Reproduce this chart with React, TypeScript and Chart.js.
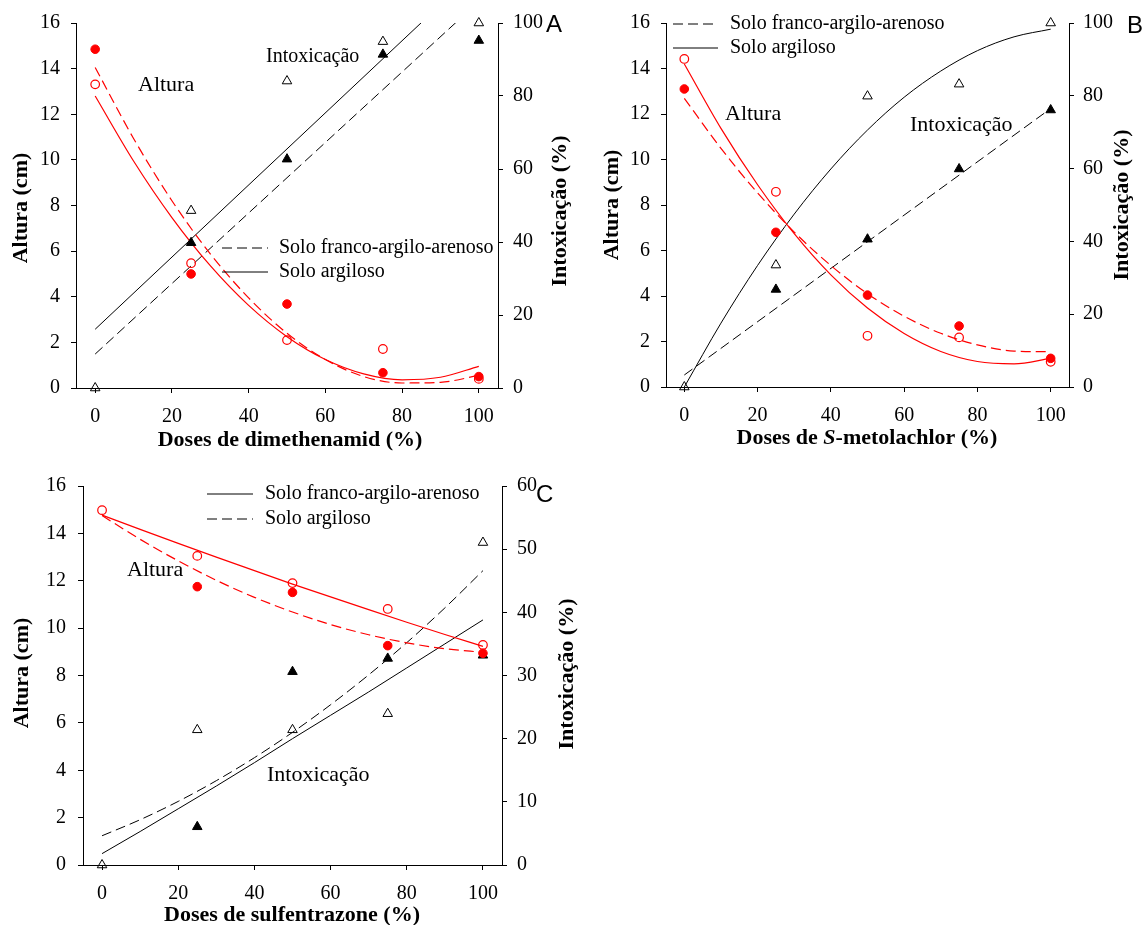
import React, { useEffect, useRef } from 'react';
import { Chart, registerables } from 'chart.js';

Chart.register(...registerables);

const SERIF = "'Liberation Serif', 'Times New Roman', serif";
const SANS = "'Liberation Sans', Arial, sans-serif";
const RED = '#ff0000';

// ---------- shared axes ----------
const doseTicks = [0, 20, 40, 60, 80, 100];
const alturaTicks = [0, 2, 4, 6, 8, 10, 12, 14, 16];
const intoxTicksAB = [0, 20, 40, 60, 80, 100];
const intoxTicksC = [0, 10, 20, 30, 40, 50, 60];
const doses = [0, 25, 50, 75, 100];
const curveDoses = [0, 10, 20, 30, 40, 50, 60, 70, 80, 90, 100];
const lineDoses = [0, 100];

// ---------- Panel A: dimethenamid ----------
const aAlturaFilled = [14.85, 5.0, 3.68, 0.67, 0.5];
const aAlturaOpen = [13.31, 5.47, 2.1, 1.71, 0.4];
const aIntoxFilled = [null, 39.8, 62.7, 91.4, 95.2];
const aIntoxOpen = [0, 48.6, 84.1, 94.9, 100];
const aFitAlturaDashed = [14.05, 10.94, 8.21, 5.88, 3.95, 2.4, 1.25, 0.5, 0.22, 0.25, 0.55];
const aFitAlturaSolid = [12.8, 9.95, 7.47, 5.36, 3.62, 2.25, 1.25, 0.62, 0.36, 0.47, 0.95];
const aFitIntoxDashed = [9.3, 105.9];
const aFitIntoxSolid = [16.1, 114.9];

// ---------- Panel B: S-metolachlor ----------
const bAlturaFilled = [13.1, 6.8, 4.04, 2.68, 1.26];
const bAlturaOpen = [14.42, 8.58, 2.25, 2.18, 1.11];
const bIntoxFilled = [null, 26.8, 40.6, 59.9, 76.1];
const bIntoxOpen = [0, 33.5, 79.9, 83.2, 100];
const bFitAlturaDashed = [12.69, 10.49, 8.53, 6.81, 5.34, 4.1, 3.11, 2.36, 1.85, 1.58, 1.55];
const bFitAlturaSolid = [14.2, 11.37, 8.89, 6.74, 4.93, 3.47, 2.35, 1.56, 1.12, 1.02, 1.26];
const bFitIntoxDashed = [3.3, 76.5];
const bFitIntoxSolid = [0, 17.55, 33.4, 47.5, 59.9, 70.6, 79.6, 86.8, 92.4, 96.2, 98.3];

// ---------- Panel C: sulfentrazone ----------
const cAlturaOpen = [14.98, 13.05, 11.9, 10.81, 9.29];
const cAlturaFilled = [null, 11.75, 11.51, 9.26, 8.94];
const cIntoxOpen = [0, 21.4, 21.4, 23.95, 51.05];
const cIntoxFilled = [null, 6.05, 30.6, 32.7, 33.2];
const cFitAlturaSolid = [14.77, 14.17, 13.58, 13.0, 12.43, 11.86, 11.32, 10.78, 10.25, 9.73, 9.23];
const cFitAlturaDashed = [14.75, 13.75, 12.84, 12.02, 11.3, 10.68, 10.15, 9.72, 9.38, 9.13, 8.98];
const cFitIntoxSolid = [1.8, 5.3, 8.9, 12.5, 16.2, 20.0, 23.7, 27.4, 31.2, 35.0, 38.8];
const cFitIntoxDashed = [4.63, 7.17, 10.07, 13.35, 16.99, 21.0, 25.37, 30.1, 35.2, 40.7, 46.6];

const LEG_FRANCO = 'Solo franco-argilo-arenoso';
const LEG_ARGILOSO = 'Solo argiloso';

const DASH = [10, 5];

type Part = { t: string; font: string };
type TextItem = {
  parts: Part[];
  x: number;
  y: number;
  align?: 'left' | 'center';
  baseline?: CanvasTextBaseline;
  rotate?: boolean;
};
type LegendItem = { dash: number[]; x1: number; x2: number; y: number; tx: number; text: string };

const titleFont = `bold 22px ${SERIF}`;
const txt = (t: string, font: string): Part[] => [{ t, font }];

const pts = (xs: number[], ys: (number | null)[]) =>
  xs.map((x, i) => ({ x, y: ys[i] })).filter((p) => p.y !== null);

const overlayPlugin = {
  id: 'overlay',
  afterDraw(chart: any, _args: any, opts: any) {
    const ctx: CanvasRenderingContext2D = chart.ctx;
    ctx.save();
    ctx.fillStyle = '#000';
    ctx.strokeStyle = '#000';
    (opts.legend || []).forEach((l: LegendItem) => {
      ctx.save();
      ctx.lineWidth = 1;
      ctx.setLineDash(l.dash);
      ctx.beginPath();
      ctx.moveTo(l.x1, l.y);
      ctx.lineTo(l.x2, l.y);
      ctx.stroke();
      ctx.restore();
      ctx.font = `20px ${SERIF}`;
      ctx.textAlign = 'left';
      ctx.textBaseline = 'middle';
      ctx.fillText(l.text, l.tx, l.y);
    });
    (opts.texts || []).forEach((it: TextItem) => {
      ctx.save();
      ctx.translate(it.x, it.y);
      if (it.rotate) ctx.rotate(-Math.PI / 2);
      ctx.textBaseline = it.baseline || 'middle';
      ctx.textAlign = 'left';
      let total = 0;
      const widths = it.parts.map((p) => {
        ctx.font = p.font;
        const w = ctx.measureText(p.t).width;
        total += w;
        return w;
      });
      let cx = it.align === 'left' ? 0 : -total / 2;
      it.parts.forEach((p, i) => {
        ctx.font = p.font;
        ctx.fillText(p.t, cx, 0);
        cx += widths[i];
      });
      ctx.restore();
    });
    ctx.restore();
  },
};

const tickFont = { family: SERIF, size: 20 };

function xScale(height: number) {
  return {
    type: 'linear',
    position: 'bottom',
    min: -5,
    max: 105,
    afterBuildTicks: (s: any) => {
      s.ticks = doseTicks.map((v) => ({ value: v }));
    },
    afterFit: (s: any) => {
      s.height = height;
    },
    grid: { drawOnChartArea: false, drawTicks: true, tickLength: 5, color: '#000', lineWidth: 1 },
    border: { display: true, color: '#000', width: 1 },
    ticks: { color: '#000', font: tickFont, padding: 12, maxRotation: 0, autoSkip: false },
  };
}

function yScale(position: 'left' | 'right', max: number, ticks: number[], width: number, padding: number) {
  return {
    type: 'linear',
    position,
    min: 0,
    max,
    afterBuildTicks: (s: any) => {
      s.ticks = ticks.map((v) => ({ value: v }));
    },
    afterFit: (s: any) => {
      s.width = width;
    },
    grid: { drawOnChartArea: false, drawTicks: true, tickLength: 5, color: '#000', lineWidth: 1 },
    border: { display: true, color: '#000', width: 1 },
    ticks: { color: '#000', font: tickFont, padding, autoSkip: false },
  };
}

const ptFilledCircle = (data: any[]) => ({
  data,
  yAxisID: 'y',
  showLine: false,
  pointStyle: 'circle',
  pointRadius: 4.3,
  backgroundColor: RED,
  borderColor: RED,
  borderWidth: 1,
  clip: false,
});
const ptOpenCircle = (data: any[]) => ({
  data,
  yAxisID: 'y',
  showLine: false,
  pointStyle: 'circle',
  pointRadius: 4.3,
  backgroundColor: 'rgba(255,255,255,0)',
  borderColor: RED,
  borderWidth: 1.2,
  clip: false,
});
const ptFilledTri = (data: any[]) => ({
  data,
  yAxisID: 'y1',
  showLine: false,
  pointStyle: 'triangle',
  pointRadius: 5.5,
  backgroundColor: '#000',
  borderColor: '#000',
  borderWidth: 1,
  clip: false,
});
const ptOpenTri = (data: any[]) => ({
  data,
  yAxisID: 'y1',
  showLine: false,
  pointStyle: 'triangle',
  pointRadius: 5.5,
  backgroundColor: 'rgba(255,255,255,0)',
  borderColor: '#000',
  borderWidth: 1,
  clip: false,
});
const fitLine = (data: any[], axis: string, color: string, dashed: boolean, width: number) => ({
  data,
  yAxisID: axis,
  showLine: true,
  pointRadius: 0,
  borderColor: color,
  backgroundColor: color,
  borderWidth: width,
  borderDash: dashed ? DASH : [],
  cubicInterpolationMode: 'monotone',
  tension: 0.4,
  fill: false,
});

type PanelCfg = {
  left: number;
  top: number;
  width: number;
  height: number;
  leftW: number;
  rightW: number;
  xH: number;
  padTop: number;
  leftPad: number;
  rightPad: number;
  rightMax: number;
  rightTicks: number[];
  datasets: any[];
  texts: TextItem[];
  legend: LegendItem[];
};

function Panel({ cfg }: { cfg: PanelCfg }) {
  const ref = useRef<HTMLCanvasElement | null>(null);
  useEffect(() => {
    if (!ref.current) return;
    const chart = new Chart(ref.current, {
      type: 'scatter',
      data: { datasets: cfg.datasets },
      options: {
        responsive: false,
        animation: false,
        events: [],
        layout: { padding: { top: cfg.padTop, left: 0, right: 0, bottom: 0 } },
        scales: {
          x: xScale(cfg.xH) as any,
          y: yScale('left', 16, alturaTicks, cfg.leftW, cfg.leftPad) as any,
          y1: yScale('right', cfg.rightMax, cfg.rightTicks, cfg.rightW, cfg.rightPad) as any,
        },
        plugins: {
          legend: { display: false },
          tooltip: { enabled: false },
          title: { display: false },
          overlay: { texts: cfg.texts, legend: cfg.legend },
        } as any,
      },
      plugins: [overlayPlugin],
    });
    return () => chart.destroy();
  }, [cfg]);
  return (
    <canvas
      ref={ref}
      width={cfg.width}
      height={cfg.height}
      style={{ position: 'absolute', left: cfg.left, top: cfg.top, width: cfg.width, height: cfg.height }}
    />
  );
}

const panelA: PanelCfg = {
  left: 0,
  top: 0,
  width: 575,
  height: 460,
  leftW: 76,
  rightW: 77,
  xH: 72,
  padTop: 23,
  leftPad: 11,
  rightPad: 10,
  rightMax: 100,
  rightTicks: intoxTicksAB,
  datasets: [
    ptFilledCircle(pts(doses, aAlturaFilled)),
    ptOpenCircle(pts(doses, aAlturaOpen)),
    ptFilledTri(pts(doses, aIntoxFilled)),
    ptOpenTri(pts(doses, aIntoxOpen)),
    fitLine(pts(curveDoses, aFitAlturaDashed), 'y', RED, true, 1.2),
    fitLine(pts(curveDoses, aFitAlturaSolid), 'y', RED, false, 1.2),
    fitLine(pts(lineDoses, aFitIntoxDashed), 'y1', '#000', true, 1),
    fitLine(pts(lineDoses, aFitIntoxSolid), 'y1', '#000', false, 1),
  ],
  texts: [
    { parts: txt('Altura (cm)', titleFont), x: 21, y: 208, rotate: true },
    { parts: txt('Intoxicação (%)', titleFont), x: 560, y: 211, rotate: true },
    { parts: txt('Doses de dimethenamid (%)', titleFont), x: 290, y: 440 },
    { parts: txt('Altura', `22px ${SERIF}`), x: 138, y: 85, align: 'left' },
    { parts: txt('Intoxicação', `20px ${SERIF}`), x: 266, y: 57, align: 'left' },
    { parts: txt('A', `24px ${SANS}`), x: 546, y: 32, align: 'left', baseline: 'alphabetic' },
  ],
  legend: [
    { dash: DASH, x1: 222, x2: 268, y: 248, tx: 279, text: LEG_FRANCO },
    { dash: [], x1: 222, x2: 268, y: 272, tx: 279, text: LEG_ARGILOSO },
  ],
};

const panelB: PanelCfg = {
  left: 580,
  top: 0,
  width: 563,
  height: 460,
  leftW: 86,
  rightW: 74,
  xH: 73,
  padTop: 23,
  leftPad: 11,
  rightPad: 9,
  rightMax: 100,
  rightTicks: intoxTicksAB,
  datasets: [
    ptFilledCircle(pts(doses, bAlturaFilled)),
    ptOpenCircle(pts(doses, bAlturaOpen)),
    ptFilledTri(pts(doses, bIntoxFilled)),
    ptOpenTri(pts(doses, bIntoxOpen)),
    fitLine(pts(curveDoses, bFitAlturaDashed), 'y', RED, true, 1.2),
    fitLine(pts(curveDoses, bFitAlturaSolid), 'y', RED, false, 1.2),
    fitLine(pts(lineDoses, bFitIntoxDashed), 'y1', '#000', true, 1),
    fitLine(pts(curveDoses, bFitIntoxSolid), 'y1', '#000', false, 1),
  ],
  texts: [
    { parts: txt('Altura (cm)', titleFont), x: 32, y: 205, rotate: true },
    { parts: txt('Intoxicação (%)', titleFont), x: 542, y: 205, rotate: true },
    {
      parts: [
        { t: 'Doses de ', font: titleFont },
        { t: 'S', font: `italic bold 22px ${SERIF}` },
        { t: '-metolachlor (%)', font: titleFont },
      ],
      x: 287,
      y: 438,
    },
    { parts: txt('Altura', `22px ${SERIF}`), x: 145, y: 114, align: 'left' },
    { parts: txt('Intoxicação', `22px ${SERIF}`), x: 330, y: 125, align: 'left' },
    { parts: txt('B', `24px ${SANS}`), x: 547, y: 33, align: 'left', baseline: 'alphabetic' },
  ],
  legend: [
    { dash: DASH, x1: 93, x2: 138, y: 24, tx: 150, text: LEG_FRANCO },
    { dash: [], x1: 93, x2: 138, y: 48, tx: 150, text: LEG_ARGILOSO },
  ],
};

const panelC: PanelCfg = {
  left: 0,
  top: 462,
  width: 600,
  height: 463,
  leftW: 83,
  rightW: 98,
  xH: 60,
  padTop: 23,
  leftPad: 12,
  rightPad: 10,
  rightMax: 60,
  rightTicks: intoxTicksC,
  datasets: [
    ptFilledCircle(pts(doses, cAlturaFilled)),
    ptOpenCircle(pts(doses, cAlturaOpen)),
    ptFilledTri(pts(doses, cIntoxFilled)),
    ptOpenTri(pts(doses, cIntoxOpen)),
    fitLine(pts(curveDoses, cFitAlturaSolid), 'y', RED, false, 1.2),
    fitLine(pts(curveDoses, cFitAlturaDashed), 'y', RED, true, 1.2),
    fitLine(pts(curveDoses, cFitIntoxSolid), 'y1', '#000', false, 1),
    fitLine(pts(curveDoses, cFitIntoxDashed), 'y1', '#000', true, 1),
  ],
  texts: [
    { parts: txt('Altura (cm)', titleFont), x: 22, y: 211, rotate: true },
    { parts: txt('Intoxicação (%)', titleFont), x: 567, y: 212, rotate: true },
    { parts: txt('Doses de sulfentrazone (%)', titleFont), x: 292, y: 453 },
    { parts: txt('Altura', `22px ${SERIF}`), x: 127, y: 108, align: 'left' },
    { parts: txt('Intoxicação', `22px ${SERIF}`), x: 267, y: 313, align: 'left' },
    { parts: txt('C', `24px ${SANS}`), x: 536, y: 40, align: 'left', baseline: 'alphabetic' },
  ],
  legend: [
    { dash: [], x1: 207, x2: 253, y: 32, tx: 265, text: LEG_FRANCO },
    { dash: DASH, x1: 207, x2: 253, y: 57, tx: 265, text: LEG_ARGILOSO },
  ],
};

export default function App() {
  return (
    <div style={{ position: 'absolute', left: 0, top: 0, width: 1143, height: 925, background: '#fff' }}>
      <Panel cfg={panelA} />
      <Panel cfg={panelB} />
      <Panel cfg={panelC} />
    </div>
  );
}
